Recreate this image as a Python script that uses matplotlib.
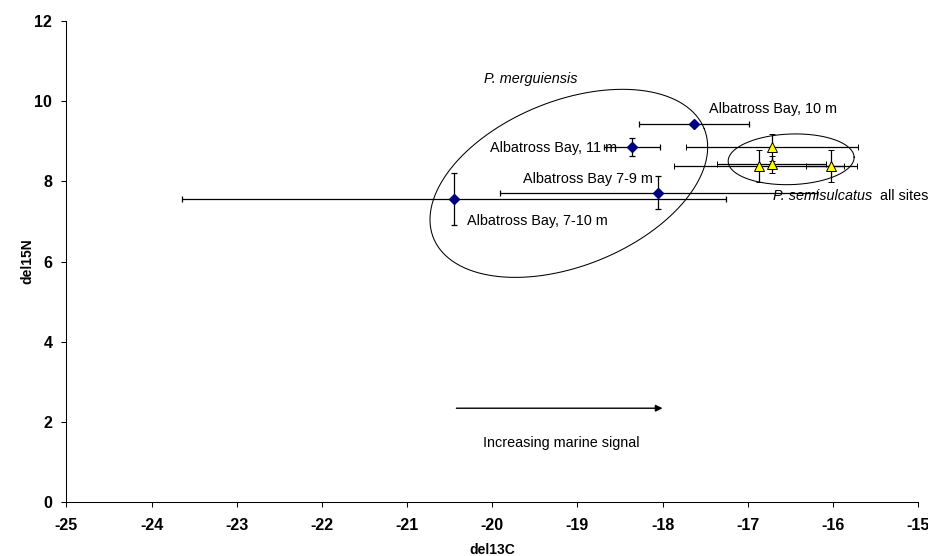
import numpy as np
import matplotlib
matplotlib.use("Agg")
import matplotlib.pyplot as plt

plt.rcParams['font.family'] = ['Liberation Sans', 'DejaVu Sans']

# --- P. merguiensis, Albatross Bay sites (mean +/- SD) ---
merg_sites = ["Albatross Bay, 10 m", "Albatross Bay, 11 m",
              "Albatross Bay 7-9 m", "Albatross Bay, 7-10 m"]
merg_d13c = [-17.63, -18.36, -18.05, -20.45]
merg_d15n = [9.44, 8.85, 7.72, 7.56]
merg_d13c_sd = [0.65, 0.33, 1.86, 3.19]
merg_d15n_sd = [0.05, 0.23, 0.42, 0.65]
merg_label_x = [-17.46, -20.02, -19.64, -20.30]
merg_label_y = [9.80, 8.82, 8.06, 7.00]

# --- P. semisulcatus, all sites (mean +/- SD) ---
semi_d13c = [-16.71, -16.87, -16.72, -16.02]
semi_d15n = [8.85, 8.39, 8.43, 8.39]
semi_d13c_sd = [1.01, 1.00, 0.64, 0.30]
semi_d15n_sd = [0.34, 0.40, 0.21, 0.40]

x_ticks = list(range(-25, -14))
y_ticks = list(range(0, 13, 2))

fig = plt.figure(figsize=(9.29, 5.56), dpi=100)
ax = fig.add_axes([0.0714, 0.0971, 0.9168, 0.8651])
ax.set_xlim(-25, -15)
ax.set_ylim(0, 12)

ax.errorbar(merg_d13c, merg_d15n, xerr=merg_d13c_sd, yerr=merg_d15n_sd,
            fmt='D', color='#000080', markeredgecolor='#000080', markersize=5,
            ecolor='black', elinewidth=0.9, capsize=2.4, capthick=0.9, zorder=3)
ax.errorbar(semi_d13c, semi_d15n, xerr=semi_d13c_sd, yerr=semi_d15n_sd,
            fmt='^', markerfacecolor='#FFFF00', markeredgecolor='black',
            markeredgewidth=0.7, markersize=6.5,
            ecolor='black', elinewidth=0.9, capsize=2.4, capthick=0.9, zorder=3)


def outline_ellipse(ax, cx, cy, a_px, b_px, angle_deg):
    """Ellipse given in screen pixels, centred on a data point."""
    bbox = ax.get_window_extent()
    x0, x1 = ax.get_xlim()
    y0, y1 = ax.get_ylim()
    px_x = bbox.width / (x1 - x0)
    px_y = bbox.height / (y1 - y0)
    t = np.linspace(0, 2 * np.pi, 400)
    th = np.radians(angle_deg)
    dx = a_px * np.cos(t) * np.cos(th) - b_px * np.sin(t) * np.sin(th)
    dy = a_px * np.cos(t) * np.sin(th) + b_px * np.sin(t) * np.cos(th)
    ax.plot(cx + dx / px_x, cy + dy / px_y, color='black', lw=0.75, zorder=4)


outline_ellipse(ax, -19.10, 7.95, 146, 82.5, 22)
outline_ellipse(ax, -16.49, 8.55, 63, 25.3, 2)

txt_size = 10.4
for name, lx, ly in zip(merg_sites, merg_label_x, merg_label_y):
    ax.text(lx, ly, name, fontsize=txt_size, ha='left', va='center', zorder=5)

ax.text(-20.10, 10.55, 'P. merguiensis', fontsize=txt_size, style='italic',
        ha='left', va='center')
semi_txt = ax.text(-16.70, 7.64, 'P. semisulcatus', fontsize=txt_size,
                   style='italic', ha='left', va='center', zorder=5)
ax.annotate('  all sites', xy=(1, 0), xycoords=semi_txt, fontsize=txt_size,
            ha='left', va='bottom')

# direction of increasing marine signal
ax.annotate('', xy=(-18.0, 2.34), xytext=(-20.42, 2.34),
            arrowprops=dict(arrowstyle='-|>', color='black', lw=1.0,
                            mutation_scale=10, shrinkA=0, shrinkB=0))
ax.text(-19.19, 1.48, 'Increasing marine signal', fontsize=txt_size,
        ha='center', va='center')

ax.set_xticks(x_ticks)
ax.set_yticks(y_ticks)
ax.set_xticklabels([str(v) for v in x_ticks])
ax.set_yticklabels([str(v) for v in y_ticks])
for lab in ax.get_xticklabels() + ax.get_yticklabels():
    lab.set_fontweight('bold')
ax.tick_params(axis='both', direction='out', length=3.6, width=0.75,
               labelsize=11.5, colors='black')
ax.tick_params(axis='x', pad=8)
ax.tick_params(axis='y', pad=6.5)

for side in ('top', 'right'):
    ax.spines[side].set_visible(False)
for side in ('left', 'bottom'):
    ax.spines[side].set_linewidth(0.75)
    ax.spines[side].set_color('black')

ax.set_xlabel('del13C', fontsize=10, fontweight='bold')
ax.set_ylabel('del15N', fontsize=10, fontweight='bold')
ax.xaxis.set_label_coords(0.5, -0.085)
ax.yaxis.set_label_coords(-0.037, 0.5)

fig.savefig('out.png', dpi=100)
